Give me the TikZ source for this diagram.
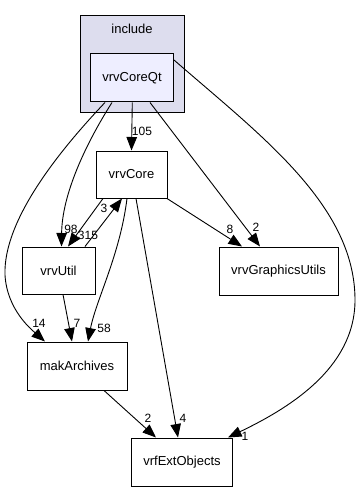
\documentclass[tikz,border=0pt]{standalone}
\usepackage{fontspec}
\setmainfont{Liberation Sans}
\usetikzlibrary{arrows.meta}
\definecolor{clusterfill}{HTML}{DDDDEE}
\definecolor{hilite}{HTML}{EEEEFF}
\begin{document}
\begin{tikzpicture}[x=1pt,y=-1pt,
  box/.style={draw=black,line width=1pt,fill=white,inner sep=0pt,font=\fontsize{13}{15}\selectfont},
  edge/.style={draw=black,line width=0.9pt,-{Triangle[length=13.5pt,width=10.5pt]}},
  elab/.style={inner sep=0pt,font=\fontsize{12}{14}\selectfont}]
\useasboundingbox[fill=white] (0,0) rectangle (363,492);
\draw[fill=clusterfill,line width=1pt] (80,16) rectangle (184,113);
\node[inner sep=0pt,font=\fontsize{13}{15}\selectfont] (inc) at (132,29) {include};
\node[box,fill=hilite,minimum width=83pt,minimum height=48pt] (coreqt) at (132,78) {vrvCoreQt};
\node[box,minimum width=71pt,minimum height=47pt] (core) at (131.5,174.5) {vrvCore};
\node[box,minimum width=73pt,minimum height=47pt] (util) at (58.5,270.5) {vrvUtil};
\node[box,minimum width=119pt,minimum height=48pt] (gu) at (278.5,271) {vrvGraphicsUtils};
\node[box,minimum width=100pt,minimum height=48pt] (mak) at (77,366) {makArchives};
\node[box,minimum width=101pt,minimum height=48pt] (vrf) at (182,462) {vrfExtObjects};
% edges from vrvCoreQt
\draw[edge] ([xshift=0.3pt]coreqt.south) -- (core.north);
\draw[edge] ([xshift=18pt]coreqt.south) -- ([xshift=-18.5pt]gu.north);
\draw[edge] ([yshift=18pt]coreqt.east) .. controls (260,135) and (355,205) .. (355,300)
  .. controls (355,370) and (285,410) .. ([xshift=-5pt]vrf.north east);
\draw[edge] ([xshift=-20pt]coreqt.south) .. controls (85,145) and (62,195) .. ([xshift=3pt]util.north);
\draw[edge] ([xshift=-27pt]coreqt.south) .. controls (60,150) and (3,220) .. (5,275)
  .. controls (7,310) and (32,330) .. ([xshift=-32pt]mak.north);
% edges from vrvCore
\draw[edge] ([xshift=-28.5pt]core.south) -- ([xshift=9.5pt]util.north);
\draw[edge] ([xshift=26.5pt]util.north) -- ([xshift=-9.5pt]core.south);
\draw[edge] ([xshift=-4.5pt]core.south) .. controls (120,255) and (96,300) .. ([xshift=11pt]mak.north);
\draw[edge] ([xshift=4.5pt]core.south) -- ([xshift=-4pt]vrf.north);
\draw[edge] ([xshift=35.5pt]core.south) -- ([xshift=-36.5pt]gu.north);
% others
\draw[edge] ([xshift=4.5pt]util.south) -- ([xshift=-5pt]mak.north);
\draw[edge] ([xshift=27pt]mak.south) -- ([xshift=-26pt]vrf.north);
% labels
\node[elab] (l105) at (142,131) {105};
\node[elab] (l2a) at (256,227) {2};
\node[elab] (l8) at (230,229) {8};
\node[elab] (l1) at (245,436) {1};
\node[elab] (l98) at (71,229) {98};
\node[elab] (l315) at (88,235) {315};
\node[elab] (l3) at (104,208) {3};
\node[elab] (l14) at (39,323) {14};
\node[elab] (l7) at (77,323) {7};
\node[elab] (l58) at (104,328) {58};
\node[elab] (l2b) at (148,418) {2};
\node[elab] (l4) at (183,418) {4};
\end{tikzpicture}
\end{document}
